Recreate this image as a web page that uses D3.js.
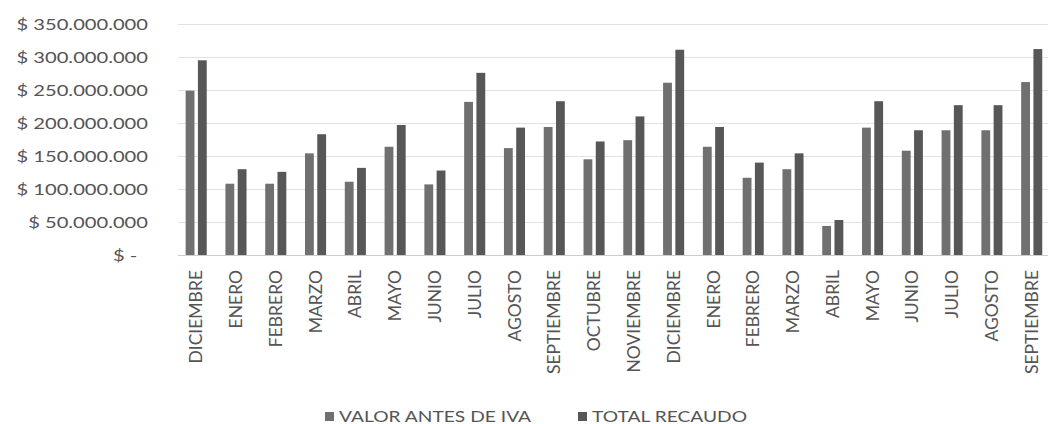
<!DOCTYPE html>
<html><head><meta charset="utf-8">
<script src="https://cdn.jsdelivr.net/npm/d3@7"></script>
<style>body{margin:0;background:#fff;overflow:hidden}svg{display:block}text{font-family:Lato,"Open Sans",sans-serif}</style>
</head><body><svg id="c" width="1048" height="424"></svg>
<script>
const categories = ["DICIEMBRE","ENERO","FEBRERO","MARZO","ABRIL","MAYO","JUNIO","JULIO","AGOSTO","SEPTIEMBRE","OCTUBRE","NOVIEMBRE","DICIEMBRE","ENERO","FEBRERO","MARZO","ABRIL","MAYO","JUNIO","JULIO","AGOSTO","SEPTIEMBRE"];
const valorAntesIva = [249,108,108,154,111,164,107,232,162,194,145,174,261,164,117,130,44,193,158,189,189,262].map(v=>v*1e6);
const totalRecaudo = [295,130,126,183,132,197,128,276,193,233,172,210,311,194,140,154,53,233,189,227,227,312].map(v=>v*1e6);
const seriesNames = ["VALOR ANTES DE IVA","TOTAL RECAUDO"];
const yTicks = [0,50e6,100e6,150e6,200e6,250e6,300e6,350e6];

const svg = d3.select("#c");
const m = {l:176.3, r:1051.6, t:24, b:255};
const x = d3.scaleBand().domain(d3.range(categories.length)).range([m.l,m.r]).paddingInner(0.47).paddingOuter(0.235);
const xs = d3.scaleBand().domain([0,1]).range([0,x.bandwidth()]).paddingInner(0.28);
const y = d3.scaleLinear().domain([0,350e6]).range([m.b,m.t]);
const colors = ["#707070","#575757"];

const fmt = v => v===0 ? "$ -" : "$ " + d3.format(",")(v).replace(/,/g,".");

// grid
svg.append("g").selectAll("line").data(yTicks).join("line")
  .attr("x1",178).attr("x2",1048).attr("y1",d=>Math.round(y(d))+0.5).attr("y2",d=>Math.round(y(d))+0.5)
  .attr("stroke",d=>d===0?"#cccccc":"#e2e2e2").attr("stroke-width",1);

// y labels
const yAxis = d3.axisLeft(y).tickValues(yTicks).tickFormat(fmt).tickSize(0).tickPadding(0);
const ga = svg.append("g").attr("transform",`translate(148,0)`).call(yAxis);
ga.select(".domain").remove();
ga.selectAll("text").attr("font-size",16).attr("fill","#555").attr("font-family","Lato,'Open Sans',sans-serif")
  .attr("dx",d=>d===0?-8.5:0).attr("transform","scale(1.26,1)");

// bars
const data = categories.map((c,i)=>({i, vals:[valorAntesIva[i], totalRecaudo[i]]}));
const g = svg.append("g").selectAll("g").data(data).join("g").attr("transform",d=>`translate(${x(d.i)},0)`);
g.selectAll("rect").data(d=>d.vals.map((v,k)=>({k,v}))).join("rect")
  .attr("x",d=>xs(d.k)).attr("width",xs.bandwidth())
  .attr("y",d=>y(d.v)).attr("height",d=>y(0)-y(d.v)).attr("fill",d=>colors[d.k]);

// x labels
const xAxis = d3.axisBottom(x).tickFormat(i=>categories[i]).tickSize(0).tickPadding(0);
const gx = svg.append("g").attr("transform",`translate(0,${m.b})`).call(xAxis);
gx.select(".domain").remove();
gx.selectAll("text").attr("font-size",17.5).attr("fill","#555").attr("font-family","Lato,'Open Sans',sans-serif")
  .attr("text-anchor","end").attr("transform","rotate(-90)").attr("x",-15).attr("y",0).attr("dy","0.35em");

// legend
const legX = [325, 578];
const lg = svg.append("g").selectAll("g").data(seriesNames).join("g").attr("transform",(d,i)=>`translate(${legX[i]},0)`);
lg.append("rect").attr("x",0).attr("y",412).attr("width",9).attr("height",9).attr("fill",(d,i)=>colors[i]);
lg.append("text").attr("transform","translate(14,421.5) scale(1.28,1)").attr("font-size",15).attr("fill","#555").text(d=>d);
</script></body></html>
